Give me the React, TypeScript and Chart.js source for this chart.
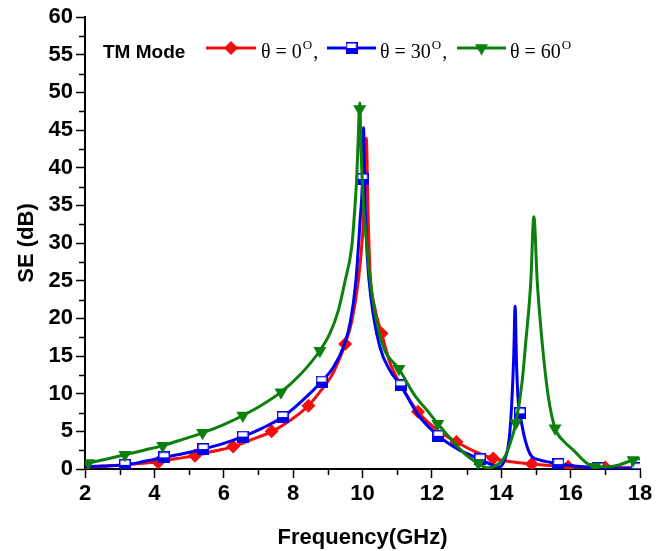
import React, { useEffect, useRef } from "react";
import { Chart, registerables } from "chart.js";
Chart.register(...registerables);

// ---- axis ticks ----
const xMajorTicks = [2, 4, 6, 8, 10, 12, 14, 16, 18];
const xMinorTicks = [3, 5, 7, 9, 11, 13, 15, 17];
const yMajorTicks = [0, 5, 10, 15, 20, 25, 30, 35, 40, 45, 50, 55, 60];
const yMinorTicks = [2.5, 7.5, 12.5, 17.5, 22.5, 27.5, 32.5, 37.5, 42.5, 47.5, 52.5, 57.5];

const xTitle = "Frequency(GHz)";
const yTitle = "SE (dB)";
const legendTitle = "TM Mode";
const legendLabels = ["θ = 0", "θ = 30", "θ = 60"];
const legendSup = "O";

// ---- θ = 0° (red) ----
const redCurveF = [2.0, 2.5, 3.0, 3.5, 4.1, 4.6, 5.2, 5.7, 6.3, 6.8, 7.4, 7.9, 8.44, 8.8, 9.1, 9.3, 9.5, 9.7, 9.88, 10.0, 10.06, 10.11, 10.16, 10.22, 10.35, 10.55, 10.8, 11.1, 11.6, 12.2, 12.71, 13.2, 13.77, 14.3, 14.88, 15.4, 15.93, 16.5, 17.0, 18.0];
const redCurveV = [0.2, 0.35, 0.5, 0.7, 0.95, 1.35, 1.8, 2.35, 3.0, 3.9, 5.0, 6.4, 8.4, 10.4, 12.3, 14.2, 16.6, 19.8, 25, 31, 37, 43.9, 34, 26, 21.5, 18.0, 14.0, 11.2, 7.6, 5.0, 3.6, 2.4, 1.4, 0.95, 0.65, 0.45, 0.3, 0.25, 0.2, 0.15];
const redMarkF = [4.11, 5.17, 6.27, 7.38, 8.44, 9.5, 10.55, 11.6, 12.71, 13.77, 14.88, 15.93, 17.0];
const redMarkV = [0.9, 1.75, 3.0, 5.0, 8.4, 16.6, 18.0, 7.6, 3.6, 1.4, 0.65, 0.3, 0.2];

// ---- θ = 30° (blue) ----
const blueCurveF = [2.0, 2.5, 3.15, 3.7, 4.28, 4.85, 5.41, 6.0, 6.55, 7.1, 7.7, 8.25, 8.82, 9.16, 9.45, 9.65, 9.81, 9.93, 10.0, 10.03, 10.07, 10.14, 10.25, 10.5, 10.8, 11.1, 11.6, 12.19, 12.8, 13.39, 13.7, 13.93, 14.1, 14.2, 14.25, 14.3, 14.36, 14.4, 14.44, 14.49, 14.54, 14.65, 14.83, 15.1, 15.4, 15.65, 16.2, 16.8, 17.4, 18.0];
const blueCurveV = [0.3, 0.4, 0.55, 1.0, 1.55, 2.05, 2.65, 3.4, 4.3, 5.4, 6.9, 9.0, 11.6, 13.5, 16.2, 19.5, 25, 33, 38.5, 45.3, 36, 28, 22.5, 16.2, 13.0, 11.1, 7.2, 4.4, 2.5, 1.3, 0.6, 0.25, 1.2, 3.0, 5.0, 8.5, 15, 21.6, 14, 9, 7.4, 4.6, 2.0, 1.2, 0.9, 0.65, 0.35, 0.15, 0.1, 0.1];
const blueMarkF = [3.15, 4.28, 5.41, 6.55, 7.7, 8.82, 10.0, 11.1, 12.19, 13.39, 14.54, 15.65, 16.8, 17.9];
const blueMarkV = [0.55, 1.55, 2.65, 4.3, 6.9, 11.6, 38.5, 11.1, 4.4, 1.3, 7.4, 0.65, 0.15, 0.1];

// ---- θ = 60° (green) ----
const greenCurveF = [2.0, 2.1, 2.6, 3.15, 3.7, 4.24, 4.8, 5.39, 6.0, 6.55, 7.1, 7.65, 8.2, 8.77, 9.06, 9.3, 9.5, 9.69, 9.77, 9.83, 9.87, 9.92, 9.96, 10.03, 10.1, 10.2, 10.35, 10.6, 11.05, 11.5, 11.93, 12.17, 12.7, 13.0, 13.34, 13.6, 13.9, 14.1, 14.25, 14.42, 14.6, 14.7, 14.85, 14.94, 15.04, 15.2, 15.35, 15.55, 15.8, 16.08, 16.46, 16.7, 17.0, 17.4, 17.8, 18.0];
const greenCurveV = [0.7, 0.8, 1.3, 1.9, 2.5, 3.1, 3.9, 4.8, 5.9, 7.1, 8.5, 10.2, 12.5, 15.7, 18.0, 21, 25, 29.5, 34, 38.4, 43, 48.6, 42, 35, 31, 26, 21, 16.2, 13.3, 9.8, 7.4, 6.0, 3.2, 1.8, 0.75, 0.15, 0.6, 1.6, 3.3, 6.1, 11.5, 16.5, 24.7, 33.5, 24.7, 15.8, 9.8, 5.4, 3.7, 2.5, 0.8, 0.3, 0.3, 0.55, 1.2, 1.4];
const greenMarkF = [2.1, 3.15, 4.24, 5.39, 6.55, 7.65, 8.77, 9.92, 11.05, 12.17, 13.34, 14.42, 15.55, 16.7, 17.8];
const greenMarkV = [0.8, 1.9, 3.1, 4.8, 7.1, 10.2, 15.7, 47.8, 13.3, 6.0, 0.75, 6.1, 5.4, 0.3, 1.2];

const RED = "#f50d0d";
const BLUE = "#0000ee";
const GREEN = "#0c800c";
const SANS = '"Liberation Sans", Arial, sans-serif';
const SERIF = '"Liberation Serif", "Times New Roman", serif';

const pts = (f: number[], v: number[]) => f.map((x, i) => ({ x, y: v[i] }));

function makeSquare(): HTMLCanvasElement {
  const c = document.createElement("canvas");
  c.width = 12;
  c.height = 12;
  const g = c.getContext("2d")!;
  g.fillStyle = "#fff";
  g.fillRect(0, 0, 12, 12);
  g.fillStyle = BLUE;
  g.fillRect(0, 6, 12, 6);
  g.strokeStyle = BLUE;
  g.lineWidth = 1.5;
  g.strokeRect(0.75, 0.75, 10.5, 10.5);
  return c;
}

function drawMarker(ctx: CanvasRenderingContext2D, kind: string, x: number, y: number, color: string, sq: HTMLCanvasElement) {
  ctx.save();
  ctx.fillStyle = color;
  if (kind === "diamond") {
    const r = 7;
    ctx.beginPath();
    ctx.moveTo(x, y - r);
    ctx.lineTo(x + r, y);
    ctx.lineTo(x, y + r);
    ctx.lineTo(x - r, y);
    ctx.closePath();
    ctx.fill();
  } else if (kind === "square") {
    ctx.drawImage(sq, x - 6, y - 6);
  } else {
    const r = 7.5;
    ctx.beginPath();
    ctx.moveTo(x, y + r);
    ctx.lineTo(x + r * 0.866, y - r / 2);
    ctx.lineTo(x - r * 0.866, y - r / 2);
    ctx.closePath();
    ctx.fill();
  }
  ctx.restore();
}

export default function App() {
  const ref = useRef<HTMLCanvasElement | null>(null);
  useEffect(() => {
    if (!ref.current) return;
    const sq = makeSquare();

    const minorTicks = {
      id: "minorTicks",
      afterDraw(chart: any) {
        const { ctx, scales } = chart;
        const x = scales.x;
        const y = scales.y;
        ctx.save();
        ctx.strokeStyle = "#000";
        ctx.lineWidth = 1.5;
        ctx.beginPath();
        xMinorTicks.forEach((f) => {
          const px = Math.round(x.getPixelForValue(f)) + 0.5;
          ctx.moveTo(px, y.bottom);
          ctx.lineTo(px, y.bottom + 6);
        });
        yMinorTicks.forEach((v) => {
          const py = Math.round(y.getPixelForValue(v)) + 0.5;
          ctx.moveTo(x.left, py);
          ctx.lineTo(x.left - 6, py);
        });
        ctx.stroke();
        ctx.restore();
      },
    };

    const legend = {
      id: "customLegend",
      afterDraw(chart: any) {
        const ctx: CanvasRenderingContext2D = chart.ctx;
        ctx.save();
        ctx.fillStyle = "#000";
        ctx.textBaseline = "alphabetic";
        ctx.font = "bold 19px " + SANS;
        ctx.fillText(legendTitle, 103, 58);
        const items = [
          { color: RED, kind: "diamond", x0: 206, x1: 256, tx: 261 },
          { color: BLUE, kind: "square", x0: 327, x1: 376, tx: 380 },
          { color: GREEN, kind: "triangle", x0: 457, x1: 506, tx: 510 },
        ];
        items.forEach((it, i) => {
          ctx.strokeStyle = it.color;
          ctx.lineWidth = 3;
          ctx.beginPath();
          ctx.moveTo(it.x0, 48);
          ctx.lineTo(it.x1, 48);
          ctx.stroke();
          drawMarker(ctx, it.kind, (it.x0 + it.x1) / 2, 48, it.color, sq);
          ctx.fillStyle = "#000";
          ctx.font = "20px " + SERIF;
          const label = legendLabels[i];
          ctx.fillText(label, it.tx, 58);
          let cx = it.tx + ctx.measureText(label).width + 1;
          ctx.font = "13px " + SERIF;
          ctx.fillText(legendSup, cx, 49);
          cx += ctx.measureText(legendSup).width;
          if (i < items.length - 1) {
            ctx.font = "20px " + SERIF;
            ctx.fillText(",", cx + 1, 58);
          }
        });
        ctx.restore();
      },
    };

    const lineDs = (f: number[], v: number[], color: string, order: number) => ({
      data: pts(f, v),
      borderColor: color,
      backgroundColor: color,
      borderWidth: 3,
      pointRadius: 0,
      cubicInterpolationMode: "monotone" as const,
      fill: false,
      order,
    });

    const tickFont = { family: SANS, size: 22, weight: "bold" as const };

    const chart = new Chart(ref.current, {
      type: "line",
      data: {
        datasets: [
          {
            data: pts(greenMarkF, greenMarkV),
            showLine: false,
            pointStyle: "triangle",
            rotation: 180,
            pointRadius: 7.5,
            pointBackgroundColor: GREEN,
            pointBorderColor: GREEN,
            pointBorderWidth: 0,
            order: 0,
          } as any,
          lineDs(greenCurveF, greenCurveV, GREEN, 1),
          {
            data: pts(blueMarkF, blueMarkV),
            showLine: false,
            pointStyle: sq,
            pointRadius: 6,
            order: 2,
          } as any,
          lineDs(blueCurveF, blueCurveV, BLUE, 3),
          {
            data: pts(redMarkF, redMarkV),
            showLine: false,
            pointStyle: "rectRot",
            pointRadius: 7,
            pointBackgroundColor: RED,
            pointBorderColor: RED,
            pointBorderWidth: 0,
            order: 4,
          } as any,
          lineDs(redCurveF, redCurveV, RED, 5),
        ],
      },
      options: {
        animation: false,
        responsive: true,
        maintainAspectRatio: false,
        layout: { padding: { top: 17, right: 30, left: 0, bottom: 0 } },
        plugins: { legend: { display: false }, tooltip: { enabled: false } },
        scales: {
          x: {
            type: "linear",
            min: 2,
            max: 18,
            afterBuildTicks: (s: any) => {
              s.ticks = xMajorTicks.map((value) => ({ value }));
            },
            afterFit: (s: any) => {
              s.height = 82;
            },
            ticks: { color: "#000", padding: 3, maxRotation: 0, font: tickFont },
            grid: { drawOnChartArea: false, drawTicks: true, tickLength: 9, tickColor: "#000", tickWidth: 1.5 },
            border: { display: true, color: "#000", width: 2 },
            title: {
              display: true,
              text: xTitle,
              color: "#000",
              padding: { top: 0, bottom: 0 },
              font: tickFont,
            },
          },
          y: {
            type: "linear",
            min: 0,
            max: 60,
            afterBuildTicks: (s: any) => {
              s.ticks = yMajorTicks.map((value) => ({ value }));
            },
            afterFit: (s: any) => {
              s.width = 85;
            },
            ticks: { color: "#000", padding: 3, font: tickFont },
            grid: { drawOnChartArea: false, drawTicks: true, tickLength: 9, tickColor: "#000", tickWidth: 1.5 },
            border: { display: true, color: "#000", width: 2 },
            title: {
              display: true,
              text: yTitle,
              color: "#000",
              padding: { top: 14, bottom: 0 },
              font: tickFont,
            },
          },
        },
      },
      plugins: [minorTicks, legend],
    });
    return () => chart.destroy();
  }, []);

  return (
    <div style={{ position: "absolute", left: 0, top: 0, width: 670, height: 551, background: "#fff" }}>
      <canvas ref={ref} />
    </div>
  );
}
